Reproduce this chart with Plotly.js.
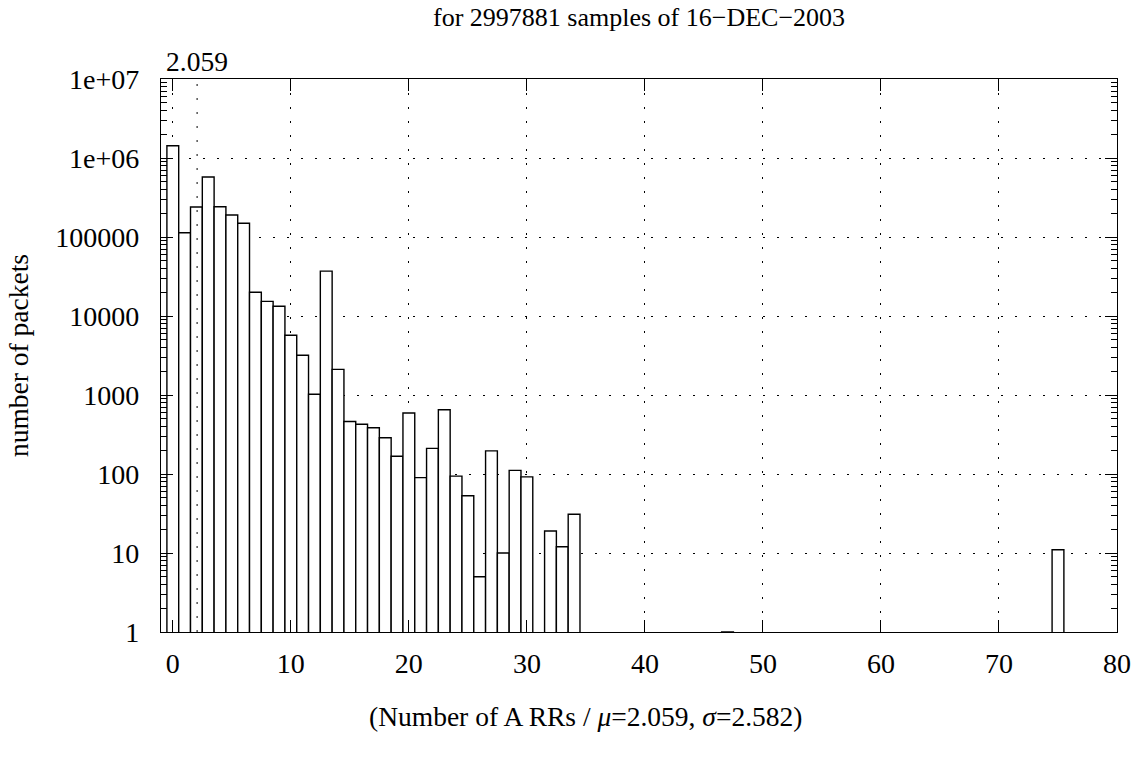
<!DOCTYPE html>
<html>
<head>
<meta charset="utf-8">
<script src="https://cdn.plot.ly/plotly-3.0.1.min.js"></script>
<style>html,body{margin:0;padding:0;background:#fff;}#chart{width:1142px;height:762px;}</style>
</head>
<body>
<div id="chart"></div>
<script>
// Number of A RRs per packet (bin) and packet counts
const binValues = [0,1,2,3,4,5,6,7,8,9,10,11,12,13,14,15,16,17,18,19,20,21,22,23,24,25,26,27,28,29,30,32,33,34,47,75];
const packetCounts = [1430000,113000,240000,575000,242000,190000,149000,20000,15300,13300,5700,3180,1020,37000,2110,462,426,385,288,168,592,90,211,651,94,53,5,196,10,111,92,19,12,31,1,11];
const meanValue = 2.059;
const sigmaValue = 2.582;
const sampleCount = 2997881;
const dateLabel = "16\u2212DEC\u22122003";
const xTickVals = [0,10,20,30,40,50,60,70,80];
const yTickVals = [1,10,100,1000,10000,100000,1000000,10000000];
const yTickText = ["1","10","100","1000","10000","100000","1e+06","1e+07"];

const serif = "Liberation Serif, Times New Roman, serif";
const fs = 27.5;
const dotGrid = "2px,12px";

const trace = {
  type: "bar",
  x: binValues,
  y: packetCounts,
  width: 1,
  marker: {color: "#ffffff", line: {color: "#000000", width: 1.4}},
  hoverinfo: "x+y"
};

const layout = {
  width: 1142, height: 762,
  paper_bgcolor: "#ffffff", plot_bgcolor: "#ffffff",
  margin: {l: 161, r: 25, t: 79, b: 130},
  showlegend: false,
  font: {family: serif, size: fs, color: "#000000"},
  bargap: 0,
  xaxis: {
    range: [-1, 80],
    tickvals: xTickVals,
    ticktext: xTickVals.map(String),
    ticks: "inside", ticklen: 12, tickwidth: 1, tickcolor: "#000",
    showline: true, linecolor: "#000", linewidth: 1.2, mirror: "allticks",
    showgrid: true, gridcolor: "#000", gridwidth: 1, griddash: dotGrid,
    zeroline: false,
    ticklabelstandoff: 6,
    tickfont: {family: serif, size: 28}
  },
  yaxis: {
    type: "log",
    range: [0, 7],
    tickvals: yTickVals,
    ticktext: yTickText,
    ticks: "inside", ticklen: 12, tickwidth: 1, tickcolor: "#000",
    minor: {ticks: "inside", ticklen: 6, tickcolor: "#000", tickwidth: 1, dtick: "D1", showgrid: false},
    showline: true, linecolor: "#000", linewidth: 1.2, mirror: "allticks",
    showgrid: true, gridcolor: "#000", gridwidth: 1, griddash: dotGrid,
    zeroline: false,
    ticklabelstandoff: 15,
    tickfont: {family: serif, size: 28},
    title: {text: "number of packets", font: {family: serif, size: fs}, standoff: 18}
  },
  shapes: [{
    type: "line", xref: "x", yref: "paper",
    x0: meanValue, x1: meanValue, y0: 0, y1: 1,
    line: {color: "#000", width: 1, dash: dotGrid}
  }],
  annotations: [{
    xref: "paper", yref: "paper", x: 0.5, y: (632 - 18) / 553,
    xanchor: "center", yanchor: "middle", showarrow: false, borderpad: 0,
    text: "for " + sampleCount + " samples of " + dateLabel,
    font: {family: serif, size: 26, color: "#000"}
  }, {
    xref: "x", yref: "paper", x: meanValue, y: 1, yanchor: "bottom", xanchor: "center",
    yshift: 0, text: String(meanValue), showarrow: false,
    font: {family: serif, size: fs, color: "#000"}
  }, {
    xref: "paper", yref: "paper", x: (585 - 161) / 956, y: -84 / 553,
    xanchor: "center", yanchor: "middle", showarrow: false,
    text: "(Number of A RRs / <i>\u03bc</i>=" + meanValue + ", <i>\u03c3</i>=" + sigmaValue + ")",
    font: {family: serif, size: fs, color: "#000"}
  }]
};

Plotly.newPlot("chart", [trace], layout, {staticPlot: true, displayModeBar: false});
</script>
</body>
</html>
